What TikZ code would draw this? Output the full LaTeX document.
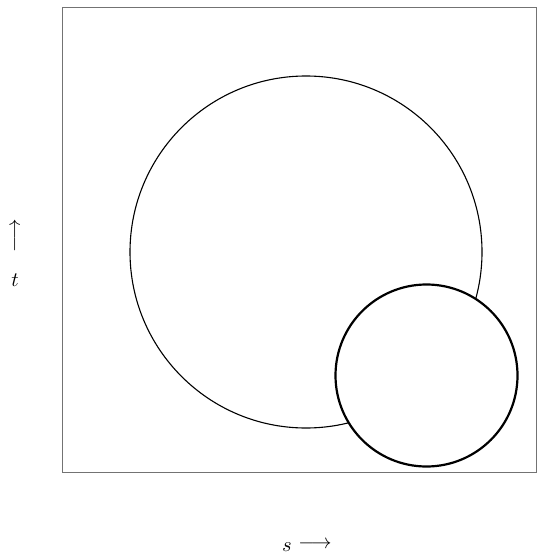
\documentclass[tikz,border=0pt]{standalone}
\usepackage{xcolor}
\usepackage{tikz}
\usetikzlibrary{positioning}

\tikzset{
  axislabel/.style={scale=2.05, inner sep=0pt},
  bigdisc/.style={draw=black, line width=1.1pt},
  smalldisc/.style={draw=black, fill=white, line width=2.2pt}
}

\begin{document}
\begin{tikzpicture}[x=1pt, y=-1pt]
  \useasboundingbox (0,0) rectangle (541,556);
  % frame
  \draw[black!55, line width=0.6pt] (62,7) rectangle (536,472);
  % the two discs
  \draw[bigdisc] (306,252) circle (176);
  \draw[smalldisc] (426.5,375.5) circle (91);
  % axis labels
  \node[axislabel] (tlab) at (15,280) {$t$};
  \node[axislabel, rotate=90] (tarrow) at (16,236) {$\longrightarrow$};
  \node[axislabel] (slab) at (287,547) {$s$};
  \node[axislabel] (sarrow) at (315,545) {$\longrightarrow$};
\end{tikzpicture}
\end{document}
